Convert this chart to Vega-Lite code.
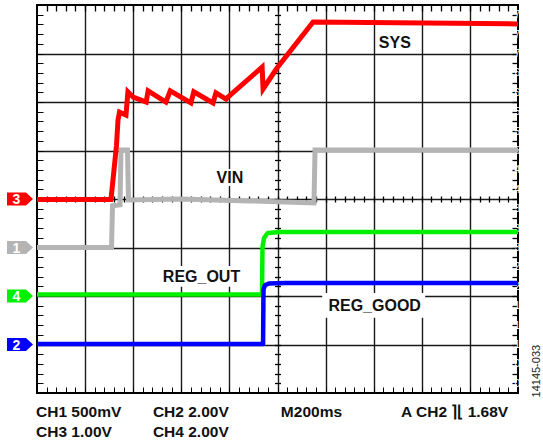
{
  "$schema": "https://vega.github.io/schema/vega-lite/v6.json",
  "width": 481,
  "height": 388,
  "autosize": {"type": "none"},
  "padding": {"left": 37, "top": 5, "right": 25, "bottom": 51},
  "background": "#ffffff",
  "config": {
    "view": {"stroke": "#000000", "strokeWidth": 2}
  },
  "datasets": {
    "traces": [
      {"ch": "VIN", "t": 0, "v": 3.0},
      {"ch": "VIN", "t": 1.549, "v": 3.0},
      {"ch": "VIN", "t": 1.570, "v": 3.86},
      {"ch": "VIN", "t": 1.726, "v": 3.88},
      {"ch": "VIN", "t": 1.746, "v": 5.01},
      {"ch": "VIN", "t": 1.881, "v": 5.01},
      {"ch": "VIN", "t": 1.902, "v": 3.98},
      {"ch": "VIN", "t": 2.973, "v": 4.0},
      {"ch": "VIN", "t": 4.428, "v": 3.96},
      {"ch": "VIN", "t": 5.759, "v": 3.92},
      {"ch": "VIN", "t": 5.780, "v": 5.01},
      {"ch": "VIN", "t": 10, "v": 5.01},
      {"ch": "SYS", "t": 0, "v": 3.99},
      {"ch": "SYS", "t": 1.538, "v": 3.99},
      {"ch": "SYS", "t": 1.653, "v": 5.11},
      {"ch": "SYS", "t": 1.684, "v": 5.63},
      {"ch": "SYS", "t": 1.715, "v": 5.79},
      {"ch": "SYS", "t": 1.85, "v": 5.73},
      {"ch": "SYS", "t": 1.89, "v": 6.21},
      {"ch": "SYS", "t": 2.0, "v": 6.10},
      {"ch": "SYS", "t": 2.27, "v": 6.0},
      {"ch": "SYS", "t": 2.31, "v": 6.23},
      {"ch": "SYS", "t": 2.68, "v": 6.0},
      {"ch": "SYS", "t": 2.77, "v": 6.23},
      {"ch": "SYS", "t": 3.20, "v": 5.98},
      {"ch": "SYS", "t": 3.26, "v": 6.21},
      {"ch": "SYS", "t": 3.66, "v": 5.98},
      {"ch": "SYS", "t": 3.72, "v": 6.19},
      {"ch": "SYS", "t": 3.93, "v": 6.06},
      {"ch": "SYS", "t": 3.97, "v": 6.10},
      {"ch": "SYS", "t": 4.68, "v": 6.72},
      {"ch": "SYS", "t": 4.70, "v": 6.27},
      {"ch": "SYS", "t": 4.99, "v": 6.70},
      {"ch": "SYS", "t": 5.74, "v": 7.65},
      {"ch": "SYS", "t": 10, "v": 7.61},
      {"ch": "REG_OUT", "t": 0, "v": 2.03},
      {"ch": "REG_OUT", "t": 4.678, "v": 2.03},
      {"ch": "REG_OUT", "t": 4.688, "v": 3.01},
      {"ch": "REG_OUT", "t": 4.72, "v": 3.20},
      {"ch": "REG_OUT", "t": 4.80, "v": 3.30},
      {"ch": "REG_OUT", "t": 5.05, "v": 3.32},
      {"ch": "REG_OUT", "t": 10, "v": 3.32},
      {"ch": "REG_GOOD", "t": 0, "v": 1.01},
      {"ch": "REG_GOOD", "t": 4.70, "v": 1.01},
      {"ch": "REG_GOOD", "t": 4.709, "v": 2.14},
      {"ch": "REG_GOOD", "t": 4.74, "v": 2.22},
      {"ch": "REG_GOOD", "t": 4.82, "v": 2.26},
      {"ch": "REG_GOOD", "t": 5.16, "v": 2.27},
      {"ch": "REG_GOOD", "t": 10, "v": 2.27}
    ],
    "labels": [
      {"label": "SYS", "x": 7.44, "y": 7.22, "x0": 7.09, "x1": 7.84, "y0": 7.07, "y1": 7.38},
      {"label": "VIN", "x": 4.01, "y": 4.44, "x0": 3.68, "x1": 4.35, "y0": 4.27, "y1": 4.62},
      {"label": "REG_OUT", "x": 3.42, "y": 2.40, "x0": 2.56, "x1": 4.28, "y0": 2.19, "y1": 2.62},
      {"label": "REG_GOOD", "x": 7.02, "y": 1.79, "x0": 5.93, "x1": 8.07, "y0": 1.55, "y1": 2.06}
    ],
    "markers": [
      {"num": "3", "ch": "SYS", "level": 4.0},
      {"num": "1", "ch": "VIN", "level": 3.0},
      {"num": "4", "ch": "REG_OUT", "level": 2.0},
      {"num": "2", "ch": "REG_GOOD", "level": 1.0}
    ],
    "footer": [
      {"text": "CH1 500mV", "x": -0.02, "y": -0.386},
      {"text": "CH3 1.00V", "x": -0.02, "y": -0.80},
      {"text": "CH2 2.00V", "x": 2.41, "y": -0.386},
      {"text": "CH4 2.00V", "x": 2.41, "y": -0.80},
      {"text": "M200ms", "x": 5.07, "y": -0.386},
      {"text": "A  CH2 ⌉⌊ 1.68V", "x": 7.57, "y": -0.386}
    ]
  },
  "layer": [
    {
      "data": {"name": "labels"},
      "mark": {"type": "rect", "color": "#ffffff", "opacity": 1},
      "encoding": {
        "x": {"field": "x0", "type": "quantitative", "scale": {"domain": [0, 10], "nice": false, "zero": false},
              "axis": {"orient": "bottom", "values": [1, 2, 3, 4, 5, 6, 7, 8, 9], "grid": true, "gridColor": "#1a1a1a", "gridWidth": 1.4, "gridOpacity": 1, "ticks": false, "labels": false, "domain": false, "title": null}},
        "x2": {"field": "x1"},
        "y": {"field": "y0", "type": "quantitative", "scale": {"domain": [0, 8], "nice": false, "zero": false},
              "axis": {"orient": "left", "values": [1, 2, 3, 4, 5, 6, 7], "grid": true, "gridColor": "#1a1a1a", "gridWidth": 1.4, "gridOpacity": 1, "ticks": false, "labels": false, "domain": false, "title": null}},
        "y2": {"field": "y1"}
      }
    },
    {
      "data": {"name": "traces"},
      "transform": [{"filter": "datum.ch === 'VIN'"}],
      "mark": {"type": "line", "strokeWidth": 5, "strokeJoin": "miter"},
      "encoding": {
        "x": {"field": "t", "type": "quantitative",
              "axis": {"orient": "bottom", "grid": false, "tickSize": -6, "tickColor": "black", "labels": false, "domain": false, "title": null, "values": [0.2,0.4,0.6,0.8,1,1.2,1.4,1.6,1.8,2,2.2,2.4,2.6,2.8,3,3.2,3.4,3.6,3.8,4,4.2,4.4,4.6,4.8,5,5.2,5.4,5.6,5.8,6,6.2,6.4,6.6,6.8,7,7.2,7.4,7.6,7.8,8,8.2,8.4,8.6,8.8,9,9.2,9.4,9.6,9.8]}},
        "y": {"field": "v", "type": "quantitative",
              "axis": {"orient": "left", "grid": false, "tickSize": -6, "tickColor": "black", "labels": false, "domain": false, "title": null, "values": [0.2,0.4,0.6,0.8,1,1.2,1.4,1.6,1.8,2,2.2,2.4,2.6,2.8,3,3.2,3.4,3.6,3.8,4,4.2,4.4,4.6,4.8,5,5.2,5.4,5.6,5.8,6,6.2,6.4,6.6,6.8,7,7.2,7.4,7.6,7.8]}},
        "color": {"field": "ch", "type": "nominal", "legend": null,
                  "scale": {"domain": ["VIN", "SYS", "REG_OUT", "REG_GOOD"], "range": ["#b4b4b4", "#ff0000", "#00f000", "#0000ff"]}}
      }
    },
    {
      "data": {"name": "traces"},
      "transform": [{"filter": "datum.ch === 'SYS'"}],
      "mark": {"type": "line", "strokeWidth": 5, "strokeJoin": "miter"},
      "encoding": {
        "x": {"field": "t", "type": "quantitative",
              "axis": {"orient": "top", "grid": false, "tickSize": -6, "tickColor": "#000000", "tickWidth": 1.3, "labels": false, "domain": false, "title": null, "values": [0.2,0.4,0.6,0.8,1,1.2,1.4,1.6,1.8,2,2.2,2.4,2.6,2.8,3,3.2,3.4,3.6,3.8,4,4.2,4.4,4.6,4.8,5,5.2,5.4,5.6,5.8,6,6.2,6.4,6.6,6.8,7,7.2,7.4,7.6,7.8,8,8.2,8.4,8.6,8.8,9,9.2,9.4,9.6,9.8]}},
        "y": {"field": "v", "type": "quantitative",
              "axis": {"orient": "right", "grid": false, "tickSize": -6, "tickColor": "#000000", "tickWidth": 1.3, "labels": true, "labelColor": "#ffffff", "domain": false, "title": null, "values": [0.2,0.4,0.6,0.8,1,1.2,1.4,1.6,1.8,2,2.2,2.4,2.6,2.8,3,3.2,3.4,3.6,3.8,4,4.2,4.4,4.6,4.8,5,5.2,5.4,5.6,5.8,6,6.2,6.4,6.6,6.8,7,7.2,7.4,7.6,7.8]}},
        "color": {"field": "ch", "type": "nominal", "legend": null}
      }
    },
    {
      "data": {"name": "traces"},
      "transform": [{"filter": "datum.ch === 'REG_OUT'"}],
      "mark": {"type": "line", "strokeWidth": 4.5, "strokeJoin": "round"},
      "encoding": {
        "x": {"field": "t", "type": "quantitative",
              "axis": {"orient": "bottom", "offset": -197, "grid": false, "tickSize": 6, "tickColor": "#000000", "tickWidth": 1.3, "labels": false, "domain": true, "domainOpacity": 0, "title": null, "values": [0.2,0.4,0.6,0.8,1,1.2,1.4,1.6,1.8,2,2.2,2.4,2.6,2.8,3,3.2,3.4,3.6,3.8,4,4.2,4.4,4.6,4.8,5,5.2,5.4,5.6,5.8,6,6.2,6.4,6.6,6.8,7,7.2,7.4,7.6,7.8,8,8.2,8.4,8.6,8.8,9,9.2,9.4,9.6,9.8]}},
        "y": {"field": "v", "type": "quantitative",
              "axis": {"orient": "left", "offset": -243.5, "grid": false, "tickSize": 6, "tickColor": "#000000", "tickWidth": 1.3, "labels": false, "domain": false, "title": null, "values": [0.2,0.4,0.6,0.8,1,1.2,1.4,1.6,1.8,2,2.2,2.4,2.6,2.8,3,3.2,3.4,3.6,3.8,4,4.2,4.4,4.6,4.8,5,5.2,5.4,5.6,5.8,6,6.2,6.4,6.6,6.8,7,7.2,7.4,7.6,7.8]}},
        "color": {"field": "ch", "type": "nominal", "legend": null}
      }
    },
    {
      "data": {"name": "traces"},
      "transform": [{"filter": "datum.ch === 'REG_GOOD'"}],
      "mark": {"type": "line", "strokeWidth": 4.5, "strokeJoin": "round"},
      "encoding": {
        "x": {"field": "t", "type": "quantitative", "axis": null},
        "y": {"field": "v", "type": "quantitative", "axis": null},
        "color": {"field": "ch", "type": "nominal", "legend": null}
      }
    },
    {
      "data": {"name": "labels"},
      "mark": {"type": "text", "font": "Liberation Sans", "fontWeight": "bold", "fontSize": 16, "align": "center", "baseline": "middle", "color": "#111111"},
      "encoding": {
        "x": {"field": "x", "type": "quantitative", "axis": null},
        "y": {"field": "y", "type": "quantitative", "axis": null},
        "text": {"field": "label"}
      }
    },
    {
      "data": {"name": "markers"},
      "mark": {"type": "point", "shape": "M-1,-0.5L0.46,-0.5L1,0L0.46,0.5L-1,0.5Z", "size": 676, "filled": true, "opacity": 1, "strokeWidth": 0},
      "encoding": {
        "x": {"datum": -0.353, "type": "quantitative", "axis": null},
        "y": {"field": "level", "type": "quantitative", "axis": null},
        "color": {"field": "ch", "type": "nominal", "legend": null}
      }
    },
    {
      "data": {"name": "markers"},
      "mark": {"type": "text", "font": "Liberation Sans", "fontWeight": "bold", "fontSize": 14, "align": "center", "baseline": "middle", "color": "#ffffff", "dy": 1},
      "encoding": {
        "x": {"datum": -0.43, "type": "quantitative", "axis": null},
        "y": {"field": "level", "type": "quantitative", "axis": null},
        "text": {"field": "num"}
      }
    },
    {
      "data": {"name": "footer"},
      "mark": {"type": "text", "font": "Liberation Sans", "fontWeight": "bold", "fontSize": 15.5, "align": "left", "baseline": "middle", "color": "#111111"},
      "encoding": {
        "x": {"field": "x", "type": "quantitative", "axis": null},
        "y": {"field": "y", "type": "quantitative", "axis": null},
        "text": {"field": "text"}
      }
    },
    {
      "data": {"values": [{"id": "14145-033", "x": 10.40, "y": 0.45}]},
      "mark": {"type": "text", "font": "Liberation Sans", "fontSize": 11, "angle": 270, "align": "center", "baseline": "middle", "color": "#222222"},
      "encoding": {
        "x": {"field": "x", "type": "quantitative", "axis": null},
        "y": {"field": "y", "type": "quantitative", "axis": null},
        "text": {"field": "id"}
      }
    }
  ],
  "resolve": {"axis": {"x": "independent", "y": "independent"}}
}
